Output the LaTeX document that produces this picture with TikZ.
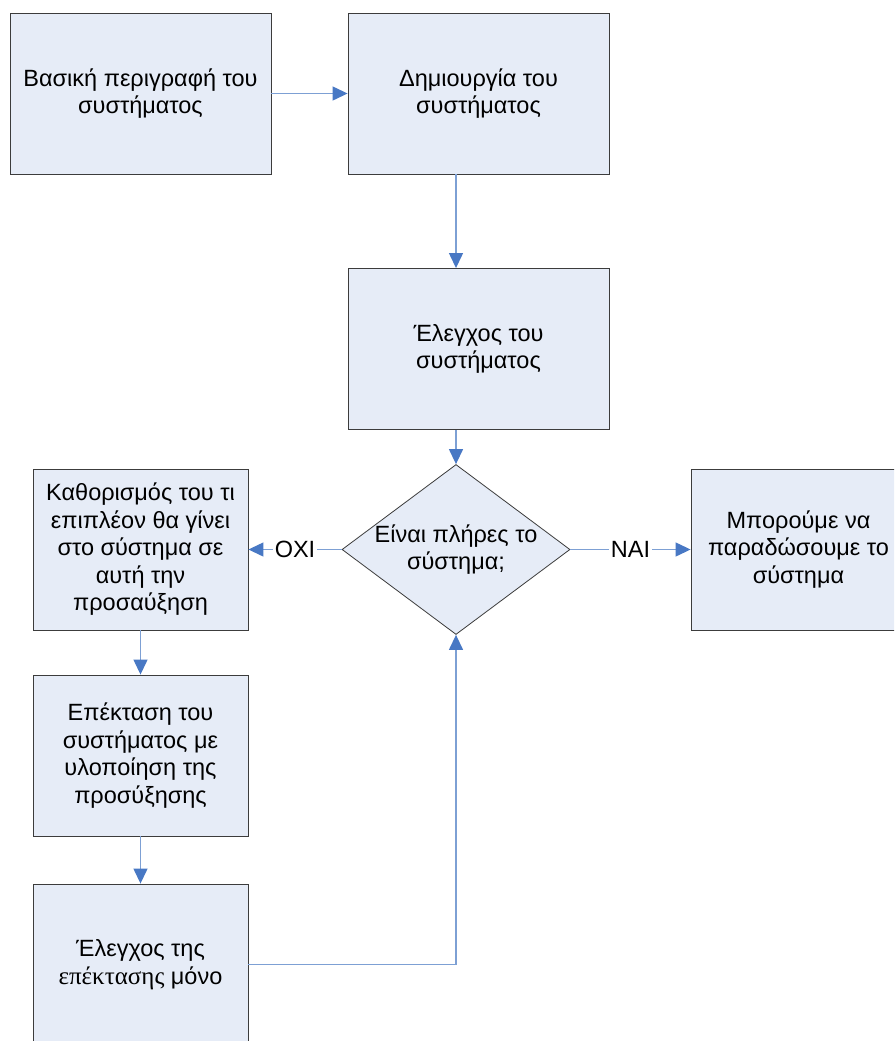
\documentclass[tikz,border=0pt]{standalone}
\usepackage{fontspec}
\setmainfont{Liberation Sans}
\newfontfamily\serifgr{Liberation Serif}
\usetikzlibrary{shapes.geometric,arrows.meta}
\definecolor{boxfill}{RGB}{230,236,247}
\definecolor{boxline}{RGB}{60,60,60}
\definecolor{linkline}{RGB}{125,160,212}
\definecolor{tipblue}{RGB}{72,120,196}
\tikzset{
  x=1pt, y=-1pt,
  labelfont/.style={font=\fontsize{23.5}{27.5}\selectfont},
  stagebox/.style={draw=boxline, fill=boxfill, line width=0.9pt, inner sep=0pt,
    minimum height=161pt, align=center, labelfont},
  widebox/.style={stagebox, minimum width=261pt},
  narrowbox/.style={stagebox, minimum width=215pt},
  choice/.style={diamond, draw=boxline, fill=boxfill, line width=0.8pt, inner sep=0pt,
    minimum width=228pt, minimum height=170pt},
  link/.style={draw=linkline, line width=1.3pt,
    -{Triangle[length=15pt,width=14pt,color=tipblue]}},
  answer/.style={fill=white, inner sep=1.5pt, labelfont}
}
\begin{document}
\begin{tikzpicture}
\useasboundingbox (0,0) rectangle (894,1041);
\clip (0,0) rectangle (894,1041);
\fill[white] (0,0) rectangle (894,1041);

% main column
\node[widebox] (basic) at (140.5,93.5) {Βασική περιγραφή του\\συστήματος};
\node[widebox] (build) at (478.5,93.5) {Δημιουργία του\\συστήματος};
\node[widebox] (check) at (478.5,349) {Έλεγχος του\\συστήματος};
\node[choice] (done) at (456,549.5) {};
\node[labelfont, align=center] (donetext) at (done.center) {Είναι πλήρες το\\σύστημα;};

% side boxes
\node[narrowbox] (plan) at (140.5,549.5) {Καθορισμός του τι\\επιπλέον θα γίνει\\στο σύστημα σε\\αυτή την\\προσαύξηση};
\node[narrowbox] (deliver) at (798.5,549.5) {Μπορούμε να\\παραδώσουμε το\\σύστημα};
\node[narrowbox] (extend) at (140.5,755.5) {Επέκταση του\\συστήματος με\\υλοποίηση της\\προσύξησης};
\node[narrowbox] (retest) at (140.5,964.5) {Έλεγχος της\\{\serifgr\fontsize{25}{27.5}\selectfont επέκτασης} μόνο};

% connectors
\draw[link] (basic.east) -- (build.west);
\draw[link] (build.south -| done.north) -- (check.north -| done.north);
\draw[link] (check.south -| done.north) -- (done.north);
\draw[link] (done.west) -- node[answer] {ΟΧΙ} (plan.east);
\draw[link] (done.east) -- node[answer] {ΝΑΙ} (deliver.west);
\draw[link] (plan.south) -- (extend.north);
\draw[link] (extend.south) -- (retest.north);
\draw[link] (retest.east) -| (done.south);
\end{tikzpicture}
\end{document}
